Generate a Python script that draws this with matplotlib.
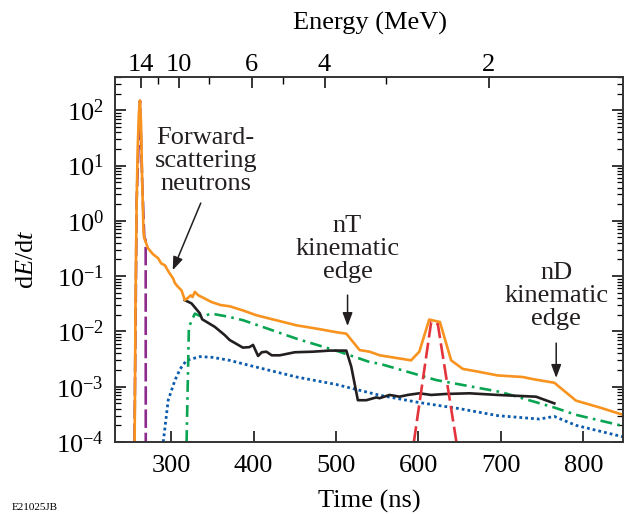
import numpy as np
import matplotlib
matplotlib.use("Agg")
import matplotlib.pyplot as plt
from matplotlib.ticker import FixedLocator, LogLocator, NullFormatter, FuncFormatter

plt.rcParams["font.family"] = ["Liberation Serif", "DejaVu Serif"]
plt.rcParams["mathtext.fontset"] = "custom"
plt.rcParams["mathtext.rm"] = "Liberation Serif"
plt.rcParams["mathtext.it"] = "Liberation Serif:italic"

# ---- data (time in ns, dE/dt) ----
t_total = [255.8, 257.0, 258.3, 259.5, 261.0, 262.3, 263.5, 265.0, 266.5, 267.3,
           272, 278, 284.4, 288, 292.5, 297, 302.6, 304.6, 308, 312.7, 316.7, 320,
           324, 326, 328.8, 333, 340, 349, 360, 371, 387, 403.5, 420, 452, 480,
           500, 512.5, 528.6, 540.7, 553, 591, 601, 613, 626, 639.6, 653.7, 670,
           696, 726, 742.5, 764.7, 791, 820, 848]
y_total = [1e-4, 0.05, 2.4, 20, 90, 150, 60, 5, 0.7, 0.5,
           0.32, 0.25, 0.21, 0.17, 0.157, 0.12, 0.09, 0.075, 0.065, 0.055, 0.037, 0.04,
           0.045, 0.042, 0.052, 0.045, 0.04, 0.034, 0.03, 0.0285, 0.024, 0.0196, 0.017, 0.0129, 0.011,
           0.0097, 0.0091, 0.0046, 0.0043, 0.0037, 0.003, 0.0043, 0.0164, 0.0148, 0.003, 0.0021, 0.0019,
           0.0016, 0.0015, 0.00134, 0.00118, 0.00056, 0.00042, 0.00031]

t_black = [316.7, 324.8, 334.9, 337.7, 353, 365, 371, 387, 395, 399.4, 405.5, 410,
           415.6, 422, 431.8, 450, 472, 492, 512.5, 518.5, 526.5, 536.7, 548.8,
           552.8, 565, 577, 587, 601, 615.4, 633.6, 661.8, 696, 742.5, 764.7]
y_black = [0.0368, 0.0321, 0.0212, 0.0166, 0.0121, 0.0086, 0.0070, 0.0051, 0.0052, 0.0057, 0.0036, 0.0042,
           0.0043, 0.0037, 0.0037, 0.0042, 0.0043, 0.0045, 0.0045, 0.0023, 0.00057, 0.00057, 0.00064,
           0.00062, 0.00071, 0.00066, 0.00071, 0.00076, 0.00071, 0.00074, 0.00076, 0.00071, 0.00066, 0.0005]

t_green = [318.8, 321.6, 328.8, 337, 349, 369, 387, 411.5, 452, 504, 540.7, 553,
           621.5, 700, 764.7, 791, 848]
y_green = [1e-4, 0.012, 0.021, 0.0185, 0.021, 0.0185, 0.016, 0.012, 0.0074, 0.0043, 0.0028, 0.0026,
           0.00132, 0.0008, 0.00042, 0.00031, 0.000195]

t_blue = [290.5, 296.5, 304.6, 311, 318.8, 335, 350, 371, 387, 452, 500, 553, 600,
          650, 696, 746.5, 764.7, 791, 848]
y_blue = [1e-4, 0.00057, 0.0013, 0.0021, 0.003, 0.0035, 0.0034, 0.003, 0.0026, 0.0015, 0.0011, 0.0007, 0.00052,
          0.0004, 0.0003, 0.00026, 0.00029, 0.0002, 0.000124]

t_purple = [255.6, 258.3, 262.3, 265.0, 267.5, 269.2, 269.3]
y_purple = [1e-4, 2.4, 148, 5, 0.5, 0.45, 1e-4]

t_red = [594.4, 615.4, 623.4, 646]
y_red = [1e-4, 0.0148, 0.0137, 1e-4]

energy_major = [14, 10, 6, 4, 2]
energy_minor = [12, 8, 5, 3]


def tof(e_mev, flight_path=13.33, t0=2.7):
    # neutron time of flight (ns) for kinetic energy e_mev
    gamma = 1 + e_mev / 939.565
    beta = np.sqrt(1 - 1 / gamma ** 2)
    return t0 + flight_path / (beta * 0.299792)


fig = plt.figure(figsize=(6.24, 5.14), dpi=100)
ax = fig.add_axes([115 / 624, 72 / 514, 508 / 624, 365 / 514])

ax.plot(t_blue, y_blue, color="#0b5cad", lw=2.0, linestyle=(0, (1, 1.1)))
ax.plot(t_green, y_green, color="#0aa552", lw=1.9, linestyle=(0, (4.5, 2, 1, 2)))
ax.plot(t_black, y_black, color="#231f20", lw=1.9)
ax.plot(t_red, y_red, color="#e3343c", lw=1.9, linestyle=(0, (6, 2)))
ax.plot(t_purple, y_purple, color="#8e2c8e", lw=1.9, linestyle=(0, (7, 1.8)))
ax.plot(t_total, y_total, color="#f7931e", lw=1.9)

ax.set_yscale("log")
ax.set_xlim(232, 848)
ax.set_ylim(1e-4, 400)

ax.xaxis.set_major_locator(FixedLocator([300, 400, 500, 600, 700, 800]))
ax.yaxis.set_major_locator(LogLocator(base=10, numticks=10))
ax.yaxis.set_minor_locator(LogLocator(base=10, subs=np.arange(2, 10), numticks=20))
ax.yaxis.set_minor_formatter(NullFormatter())
ax.yaxis.set_major_formatter(FuncFormatter(lambda v, p: r"$10^{%d}$" % round(np.log10(v))))

ax.tick_params(axis="x", which="both", direction="in", top=False, bottom=True,
               length=8, width=1.1, labelsize=19, pad=9)
ax.tick_params(axis="y", which="major", direction="in", left=True, right=True,
               length=8, width=1.1, labelsize=19, pad=8)
ax.tick_params(axis="y", which="minor", direction="in", left=True, right=True,
               length=4.5, width=0.9)
for s in ax.spines.values():
    s.set_linewidth(1.2)
    s.set_color("#333333")

# energy axis on top
ax2 = ax.twiny()
ax2.set_xlim(ax.get_xlim())
ax2.set_xticks([tof(e) for e in energy_major])
ax2.set_xticklabels([str(e) for e in energy_major])
ax2.set_xticks([tof(e) for e in energy_minor], minor=True)
ax2.tick_params(axis="x", which="major", direction="in", top=True, bottom=False,
                length=8, width=1.1, labelsize=19, pad=1)
ax2.tick_params(axis="x", which="minor", direction="in", top=True, bottom=False,
                length=5, width=1.0)
for s in ax2.spines.values():
    s.set_linewidth(1.2)
    s.set_color("#333333")

ax.set_xlabel("Time (ns)", fontsize=19)
ax.xaxis.set_label_coords(0.5, -0.132)
ax.set_ylabel(r"d$\it{E}$/d$\it{t}$", fontsize=19)
ax.yaxis.set_label_coords(-0.152, 0.5)
fig.text(370 / 624, 1 - 23 / 514, "Energy (MeV)", ha="center", va="center", fontsize=19)

# annotations
txt = dict(ha="center", va="center", fontsize=19, linespacing=1.05, color="#231f20")
arr = dict(arrowstyle="-|>,head_length=0.8,head_width=0.3", color="#231f20", lw=1.1,
           shrinkA=0, shrinkB=0)
ax.text(342, 12, "Forward-\nscattering\nneutrons", **txt)
ax.annotate("", xy=(302, 0.128), xytext=(336, 2.1), arrowprops=arr)
ax.text(514, 0.31, "nT\nkinematic\nedge", **txt)
ax.annotate("", xy=(514, 0.0125), xytext=(514, 0.0454), arrowprops=arr)
ax.text(767, 0.044, "nD\nkinematic\nedge", **txt)
ax.annotate("", xy=(767, 0.00144), xytext=(767, 0.00615), arrowprops=arr)

fig.text(12 / 624, 1 - 503 / 514, "E21025JB", ha="left", va="top", fontsize=8)

fig.savefig("out.png", dpi=100)
